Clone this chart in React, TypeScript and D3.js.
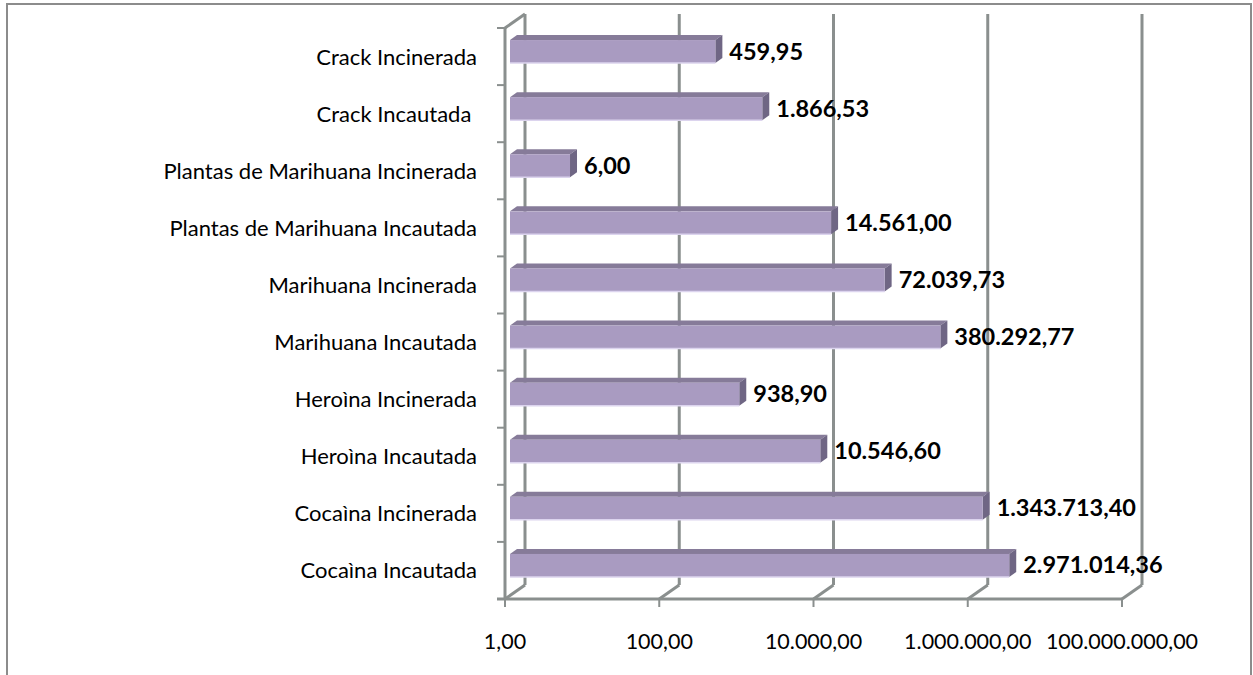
import React from 'react';
import * as d3 from 'd3';

const categories = [
  'Crack Incinerada',
  'Crack Incautada ',
  'Plantas de Marihuana Incinerada',
  'Plantas de Marihuana Incautada',
  'Marihuana Incinerada',
  'Marihuana Incautada',
  'Heroìna Incinerada',
  'Heroìna Incautada',
  'Cocaìna Incinerada',
  'Cocaìna Incautada',
];
const values = [
  459.95, 1866.53, 6.0, 14561.0, 72039.73, 380292.77, 938.9, 10546.6, 1343713.4, 2971014.36,
];
const tickValues = [1, 100, 10000, 1000000, 100000000];

const W = 1253;
const H = 675;

// floor / wall geometry (front plane)
const x0 = 505;
const x1 = 1122;
const yTop = 28;
const yBase = 599;
// depth of the back wall
const DX = 20;
const DY = -14;
// bars sit a little behind the front plane
const BX = 5;
const BY = -4;
// bar thickness in depth
const BDX = 7;
const BDY = -5;

const locale = d3.formatLocale({
  decimal: ',',
  thousands: '.',
  grouping: [3],
  currency: ['', ''],
});
const fmt = locale.format(',.2f');

const FONT = 'Lato, Carlito, "Liberation Sans", sans-serif';

const App: React.FC = () => {
  const x = d3.scaleLog().domain([1, 100000000]).range([x0, x1]);
  const y = d3.scaleBand<string>().domain(categories).range([yTop, yBase]);
  const step = y.step();
  const barH = 23;
  const grid = '#8a8f8e';

  return (
    <svg
      width={W}
      height={H}
      style={{ position: 'absolute', left: 0, top: 0, background: '#fff' }}
    >
      {/* outer frame */}
      <path d={`M7,${H} L7,4 L1251,4 L1251,${H}`} fill="none" stroke="#8c8c8c" strokeWidth={2} />

      {/* back wall gridlines + floor diagonals */}
      {tickValues.map((t, i) => (
        <g key={i}>
          <line
            x1={x(t) + DX}
            x2={x(t) + DX}
            y1={yTop + DY}
            y2={yBase + DY}
            stroke={grid}
            strokeWidth={3}
          />
          <line
            x1={x(t)}
            y1={yBase}
            x2={x(t) + DX}
            y2={yBase + DY}
            stroke={grid}
            strokeWidth={3}
          />
          <line x1={x(t)} x2={x(t)} y1={yBase} y2={yBase + 8} stroke={grid} strokeWidth={2} />
          <text
            x={x(t)}
            y={yBase + 50}
            textAnchor="middle"
            fontFamily={FONT}
            fontSize={21.5}
            fill="#000"
          >
            {fmt(t)}
          </text>
        </g>
      ))}

      {/* left wall */}
      <line x1={x0} x2={x0} y1={yTop} y2={yBase} stroke={grid} strokeWidth={3} />
      <line x1={x0} y1={yTop} x2={x0 + DX} y2={yTop + DY} stroke={grid} strokeWidth={3} />
      {/* floor front edge */}
      <line x1={x0 - 8} x2={x1} y1={yBase} y2={yBase} stroke={grid} strokeWidth={3} />
      {categories.map((c, i) => (
        <line
          key={i}
          x1={x0 - 8}
          x2={x0}
          y1={y(c)!}
          y2={y(c)!}
          stroke={grid}
          strokeWidth={2}
        />
      ))}

      {/* bars */}
      {categories.map((c, i) => {
        const v = values[i];
        const bx0 = x(1) + BX;
        const bx1 = x(v) + BX;
        const by = y(c)! + (step - barH) / 2 + BY - 1;
        return (
          <g key={c}>
            {/* top face */}
            <path
              d={`M${bx0},${by} L${bx0 + BDX},${by + BDY} L${bx1 + BDX},${by + BDY} L${bx1},${by} Z`}
              fill="#867b99"
            />
            {/* side face */}
            <path
              d={`M${bx1},${by} L${bx1 + BDX},${by + BDY} L${bx1 + BDX},${by + barH + BDY} L${bx1},${by + barH} Z`}
              fill="#6f6684"
            />
            {/* front face */}
            <rect x={bx0} y={by} width={bx1 - bx0} height={barH} fill="#a99bc1" />
            <line
              x1={bx0}
              x2={bx1}
              y1={by + barH}
              y2={by + barH}
              stroke="#dcd4ee"
              strokeWidth={1.5}
            />
            <text
              x={bx1 + BDX + 7}
              y={by + barH / 2 + 8}
              fontFamily={FONT}
              fontWeight="bold"
              fontSize={23.5}
              fill="#000"
            >
              {fmt(v)}
            </text>
            <text
              x={477}
              y={y(c)! + step / 2 + 8}
              textAnchor="end"
              fontFamily={FONT}
              fontSize={22}
              fill="#000"
              style={{ whiteSpace: 'pre' }}
            >
              {c}
            </text>
          </g>
        );
      })}
    </svg>
  );
};

export default App;
